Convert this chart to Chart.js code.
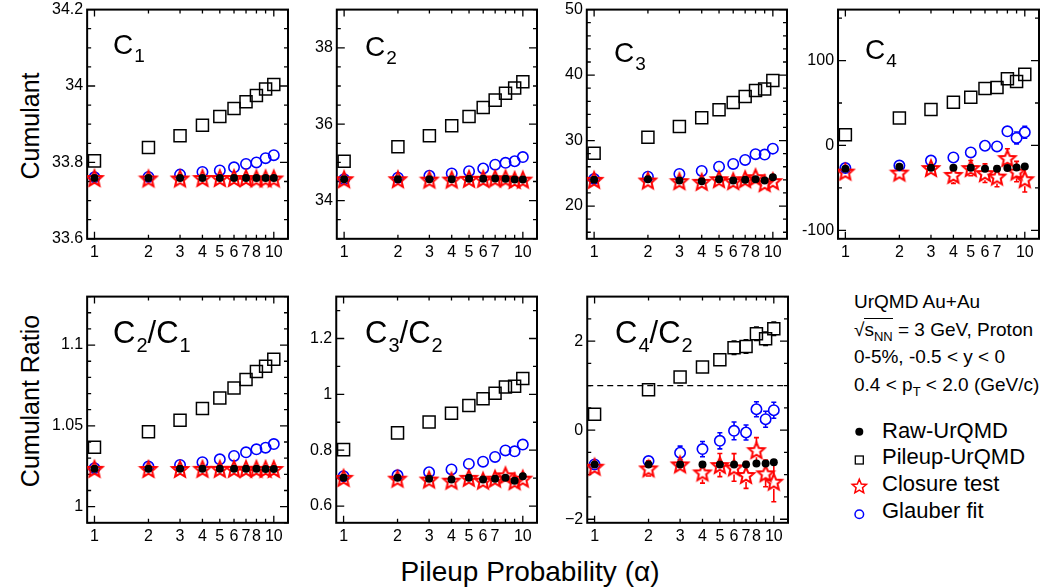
<!DOCTYPE html>
<html>
<head>
<meta charset="utf-8">
<script src="https://cdn.jsdelivr.net/npm/chart.js@4.4.1/dist/chart.umd.min.js"></script>
<style>
  body { margin: 0; width: 1041px; height: 587px; background: #fff; position: relative; overflow: hidden;
         font-family: "Liberation Sans", Arial, sans-serif; color: #000; }
  canvas { position: absolute; }
  .pt { position: absolute; font-size: 28px; line-height: 1; white-space: nowrap; }
  .pt.big { font-size: 31px; }
  .pt .sb { font-size: 19px; position: relative; top: 8px; margin-left: 1px; }
  .pt.big .sb { font-size: 20px; top: 9px; }
  .ytitle { position: absolute; font-size: 25px; line-height: 1; white-space: nowrap;
            transform: translate(-50%, -50%) rotate(-90deg); }
  .xtitle { position: absolute; font-size: 28px; line-height: 1; white-space: nowrap; transform: translate(-50%, -50%); }
  .info { position: absolute; left: 854px; font-size: 19px; line-height: 1; white-space: nowrap; }
  .info sub { font-size: 13px; vertical-align: -5px; }
  .leg { position: absolute; left: 882px; font-size: 22px; line-height: 1; white-space: nowrap; }
  .rad { border-top: 1.3px solid #000; }
</style>
</head>
<body>
<script>
// pileup probability alpha
const alpha = [1, 2, 3, 4, 5, 6, 7, 8, 9, 10];
const xLabelsA = [1, 2, 3, 4, 5, 6, 7, 8, 10];
const xLabelsB = [1, 2, 3, 4, 5, 6, 7, 10];

// C1
const c1Raw     = [33.759, 33.759, 33.759, 33.759, 33.759, 33.759, 33.759, 33.759, 33.759, 33.759];
const c1Pileup  = [33.804, 33.839, 33.870, 33.897, 33.920, 33.941, 33.959, 33.975, 33.992, 34.004];
const c1Closure = [33.759, 33.758, 33.758, 33.759, 33.759, 33.759, 33.759, 33.758, 33.758, 33.758];
const c1Glauber = [33.761, 33.762, 33.768, 33.775, 33.779, 33.787, 33.796, 33.800, 33.811, 33.819];
const c1YTicks = [33.6, 33.8, 34, 34.2];
const c1YLabels = ["33.6", "33.8", "34", "34.2"];

// C2
const c2Raw     = [34.56, 34.56, 34.56, 34.56, 34.57, 34.57, 34.58, 34.57, 34.55, 34.55];
const c2Pileup  = [35.03, 35.41, 35.70, 35.96, 36.20, 36.44, 36.63, 36.81, 36.95, 37.11];
const c2Closure = [34.56, 34.56, 34.55, 34.55, 34.57, 34.57, 34.58, 34.58, 34.54, 34.55];
const c2Glauber = [34.56, 34.60, 34.65, 34.71, 34.77, 34.84, 34.94, 34.99, 35.03, 35.14];
const c2YTicks = [34, 36, 38];
const c2YLabels = ["34", "36", "38"];

// C3
const c3Raw     = [24.0, 24.1, 23.9, 23.8, 24.1, 23.9, 24.0, 24.1, 23.9, 24.4];
const c3Pileup  = [28.07, 30.52, 32.14, 33.48, 34.70, 35.82, 36.74, 37.66, 37.87, 39.19];
const c3Closure = [24.0, 23.9, 23.8, 23.7, 24.1, 23.8, 24.1, 24.4, 23.5, 23.8];
const c3Glauber = [24.13, 24.49, 24.90, 25.36, 26.02, 26.43, 27.04, 27.92, 27.86, 28.77];
const c3YTicks = [20, 30, 40, 50];
const c3YLabels = ["20", "30", "40", "50"];

// C4
const c4Raw        = [-27.6, -25.2, -26.4, -26.4, -26.4, -27.6, -27.6, -26.7, -26.0, -24.9];
const c4Pileup     = [12.7, 32.4, 42.2, 50.9, 56.8, 67.1, 68.3, 78.6, 75.4, 83.7];
const c4Closure    = [-30.8, -32.0, -26.7, -34.7, -26.7, -32.7, -36.7, -14.9, -30.8, -39.8];
const c4ClosureErr = [5, 7, 8, 10, 9, 11, 12, 11, 12, 15];
const c4Glauber    = [-26.7, -23.7, -17.8, -14.2, -8.3, -0.4, -1.2, 16.6, 8.8, 15.4];
const c4GlauberErr = [3, 4, 5, 5, 6, 6, 6, 6, 7, 7];
const c4YTicks = [-100, 0, 100];
const c4YLabels = ["-100", "0", "100"];

// C2/C1
const r21Raw     = [1.0234, 1.0234, 1.0234, 1.0234, 1.0234, 1.0234, 1.0234, 1.0234, 1.0233, 1.0233];
const r21Pileup  = [1.0367, 1.0463, 1.0535, 1.0607, 1.0672, 1.0734, 1.0787, 1.0836, 1.0869, 1.0912];
const r21Closure = [1.0234, 1.0233, 1.0233, 1.0234, 1.0234, 1.0234, 1.0234, 1.0234, 1.0233, 1.0233];
const r21Glauber = [1.0238, 1.0248, 1.0258, 1.0275, 1.0293, 1.0314, 1.0336, 1.0355, 1.0365, 1.0387];
const r21YTicks = [1, 1.05, 1.1];
const r21YLabels = ["1", "1.05", "1.1"];

// C3/C2
const r32Raw     = [0.701, 0.701, 0.698, 0.695, 0.701, 0.695, 0.698, 0.701, 0.691, 0.707];
const r32Pileup  = [0.802, 0.862, 0.901, 0.932, 0.960, 0.984, 1.004, 1.026, 1.029, 1.057];
const r32Closure = [0.701, 0.698, 0.695, 0.691, 0.701, 0.691, 0.698, 0.710, 0.689, 0.698];
const r32Glauber = [0.707, 0.710, 0.721, 0.731, 0.751, 0.759, 0.776, 0.799, 0.796, 0.820];
const r32YTicks = [0.6, 0.8, 1, 1.2];
const r32YLabels = ["0.6", "0.8", "1", "1.2"];

// C4/C2
const r42Raw        = [-0.77, -0.77, -0.77, -0.77, -0.77, -0.77, -0.77, -0.75, -0.75, -0.72];
const r42Pileup     = [0.358, 0.91, 1.194, 1.418, 1.582, 1.851, 1.881, 2.164, 2.052, 2.276];
const r42PileupErr  = [0.05, 0.1, 0.1, 0.12, 0.12, 0.15, 0.15, 0.15, 0.15, 0.15];
const r42Closure    = [-0.82, -0.858, -0.769, -0.948, -0.784, -0.836, -1.007, -0.448, -0.97, -1.157];
const r42ClosureErr = [0.13, 0.17, 0.15, 0.24, 0.26, 0.31, 0.3, 0.28, 0.3, 0.45];
const r42Glauber    = [-0.769, -0.694, -0.507, -0.425, -0.239, -0.015, -0.052, 0.47, 0.246, 0.448];
const r42GlauberErr = [0.07, 0.12, 0.15, 0.17, 0.18, 0.2, 0.17, 0.17, 0.18, 0.18];
const r42RefLine = [1];
const r42YTicks = [-2, 0, 2];
const r42YLabels = ["\u22122", "0", "2"];

const X_MIN = 0.91, X_MAX = 12;

const panels = [
  { x: 86.7,  y: 9.5, w: 200.5, h: 229, yMin: 33.6, yMax: 34.2, minor: 0.05, yTicks: c1YTicks, yLabels: c1YLabels, xLabels: xLabelsA,
    raw: c1Raw, pileup: c1Pileup, closure: c1Closure, glauber: c1Glauber },
  { x: 336.5, y: 9.5, w: 200.5, h: 229, yMin: 33, yMax: 39, minor: 0.5, yTicks: c2YTicks, yLabels: c2YLabels, xLabels: xLabelsB,
    raw: c2Raw, pileup: c2Pileup, closure: c2Closure, glauber: c2Glauber },
  { x: 587,   y: 9.5, w: 200.5, h: 229, yMin: 15, yMax: 50, minor: 2, yTicks: c3YTicks, yLabels: c3YLabels, xLabels: xLabelsA,
    raw: c3Raw, pileup: c3Pileup, closure: c3Closure, glauber: c3Glauber },
  { x: 837.7, y: 9.5, w: 200.5, h: 229, yMin: -110, yMax: 160, minor: 50, yTicks: c4YTicks, yLabels: c4YLabels, xLabels: xLabelsB,
    raw: c4Raw, pileup: c4Pileup, closure: c4Closure, glauber: c4Glauber, closureErr: c4ClosureErr, glauberErr: c4GlauberErr },
  { x: 86.7,  y: 296.5, w: 200.5, h: 226, yMin: 0.99, yMax: 1.13, minor: 0.01, yTicks: r21YTicks, yLabels: r21YLabels, xLabels: xLabelsA,
    raw: r21Raw, pileup: r21Pileup, closure: r21Closure, glauber: r21Glauber },
  { x: 336.5, y: 296.5, w: 200.5, h: 226, yMin: 0.54, yMax: 1.35, minor: 0.1, yTicks: r32YTicks, yLabels: r32YLabels, xLabels: xLabelsB,
    raw: r32Raw, pileup: r32Pileup, closure: r32Closure, glauber: r32Glauber },
  { x: 587,   y: 296.5, w: 200.5, h: 226, yMin: -2.08, yMax: 3.0, minor: 0.5, yTicks: r42YTicks, yLabels: r42YLabels, xLabels: xLabelsA,
    raw: r42Raw, pileup: r42Pileup, closure: r42Closure, glauber: r42Glauber,
    pileupErr: r42PileupErr, closureErr: r42ClosureErr, glauberErr: r42GlauberErr, refLine: r42RefLine }
];

Chart.defaults.font.family = '"Liberation Sans", Arial, sans-serif';
Chart.defaults.font.size = 16;
Chart.defaults.color = '#000';

// open red star like ROOT marker 30
function starPath(R) {
  const pts = [];
  for (let i = 0; i < 10; i++) {
    const r = i % 2 ? R * 0.45 : R;
    const a = -Math.PI / 2 + i * Math.PI / 5;
    pts.push([r * Math.cos(a), r * Math.sin(a)]);
  }
  return pts;
}
function starCanvas(R, color, lw) {
  const c = document.createElement('canvas');
  const s = Math.ceil(2 * R + lw + 3);
  c.width = s; c.height = s;
  const g = c.getContext('2d');
  g.translate(s / 2, s / 2 + 0.8);
  g.beginPath();
  starPath(R).forEach(([px, py], i) => i ? g.lineTo(px, py) : g.moveTo(px, py));
  g.closePath();
  g.strokeStyle = color; g.lineWidth = lw; g.lineJoin = 'miter';
  g.stroke();
  return c;
}
const redStar = starCanvas(8.5, '#ff0000', 2);

const framePlugin = {
  id: 'frame',
  beforeDatasetsDraw(chart) {
    const { ctx, chartArea: a, scales: { x, y } } = chart;
    const p = chart.options.plugins.frame.panel;
    ctx.save();
    ctx.strokeStyle = '#000';
    ctx.lineWidth = 1.3;
    ctx.beginPath();
    alpha.forEach(v => {
      const px = x.getPixelForValue(v);
      const L = (v === 1 || v === 10) ? 7 : 4;
      ctx.moveTo(px, a.bottom); ctx.lineTo(px, a.bottom - L);
      ctx.moveTo(px, a.top); ctx.lineTo(px, a.top + L);
    });
    for (let k = Math.ceil(p.yMin / p.minor - 1e-6); k * p.minor <= p.yMax + 1e-6; k++) {
      const v = k * p.minor;
      const major = p.yTicks.some(t => Math.abs(t - v) < p.minor * 0.01);
      const L = major ? 8 : 4;
      const py = y.getPixelForValue(v);
      ctx.moveTo(a.left, py); ctx.lineTo(a.left + L, py);
      ctx.moveTo(a.right, py); ctx.lineTo(a.right - L, py);
    }
    ctx.stroke();
    ctx.lineWidth = 2;
    ctx.strokeRect(a.left, a.top, a.right - a.left, a.bottom - a.top);

    // error bars
    chart.data.datasets.forEach(ds => {
      if (!ds.errors) return;
      ctx.strokeStyle = ds.errColor;
      ctx.lineWidth = 1.6;
      ctx.beginPath();
      ds.data.forEach((d, i) => {
        const px = x.getPixelForValue(d.x);
        const py = y.getPixelForValue(d.y);
        const e = Math.abs(y.getPixelForValue(d.y + ds.errors[i]) - py);
        if (e <= ds.errGap) return;
        ctx.moveTo(px, py - ds.errGap); ctx.lineTo(px, py - e);
        ctx.moveTo(px, py + ds.errGap); ctx.lineTo(px, py + e);
        ctx.moveTo(px - 2.5, py - e); ctx.lineTo(px + 2.5, py - e);
        ctx.moveTo(px - 2.5, py + e); ctx.lineTo(px + 2.5, py + e);
      });
      ctx.stroke();
    });
    ctx.restore();
  }
};

const toPts = arr => arr.map((v, i) => ({ x: alpha[i], y: v }));

function makePanel(p) {
  const canvas = document.createElement('canvas');
  canvas.width = p.w + 100;
  canvas.height = p.h + 60;
  document.body.appendChild(canvas);

  const datasets = [
    { label: 'Raw-UrQMD', data: toPts(p.raw), pointStyle: 'circle', pointRadius: 4,
      backgroundColor: '#000', borderColor: '#000', borderWidth: 0 },
    { label: 'Closure test', data: toPts(p.closure), pointStyle: redStar, pointRadius: 8,
      backgroundColor: '#f00', borderColor: '#f00', errors: p.closureErr, errColor: '#f00', errGap: 7 },
    { label: 'Glauber fit', data: toPts(p.glauber), pointStyle: 'circle', pointRadius: 5.2,
      backgroundColor: 'rgba(0,0,0,0)', borderColor: '#0000ff', borderWidth: 1.6,
      errors: p.glauberErr, errColor: '#0000ff', errGap: 5.5 },
    { label: 'Pileup-UrQMD', data: toPts(p.pileup), pointStyle: 'rect', pointRadius: 8.5,
      backgroundColor: 'rgba(0,0,0,0)', borderColor: '#000', borderWidth: 1.5,
      errors: p.pileupErr, errColor: '#000', errGap: 6 }
  ];
  if (p.refLine) {
    datasets.push({ type: 'line', label: 'ref', data: [{ x: X_MIN, y: p.refLine[0] }, { x: X_MAX, y: p.refLine[0] }],
      borderColor: '#000', borderWidth: 1.3, borderDash: [6, 4], pointRadius: 0, fill: false });
  }

  const chart = new Chart(canvas, {
    type: 'scatter',
    data: { datasets },
    options: {
      responsive: false,
      maintainAspectRatio: false,
      animation: false,
      events: [],
      layout: { padding: 0 },
      plugins: { legend: { display: false }, tooltip: { enabled: false }, frame: { panel: p } },
      scales: {
        x: {
          type: 'logarithmic', min: X_MIN, max: X_MAX,
          grid: { display: false, drawTicks: false }, border: { display: false },
          afterBuildTicks: s => { s.ticks = alpha.map(v => ({ value: v })); },
          ticks: { autoSkip: false, maxRotation: 0, minRotation: 0, padding: 4,
                   callback: v => p.xLabels.includes(v) ? String(v) : '' }
        },
        y: {
          type: 'linear', min: p.yMin, max: p.yMax,
          grid: { display: false, drawTicks: false }, border: { display: false },
          afterBuildTicks: s => { s.ticks = p.yTicks.map(v => ({ value: v })); },
          ticks: { padding: 4, callback: (v, i) => p.yLabels[i] }
        }
      }
    },
    plugins: [framePlugin]
  });

  let a = chart.chartArea;
  const lm = a.left, tm = a.top, rm = canvas.width - a.right, bm = canvas.height - a.bottom;
  chart.resize(Math.round(p.w + lm + rm), Math.round(p.h + tm + bm));
  chart.update('none');
  a = chart.chartArea;
  canvas.style.left = (p.x - a.left) + 'px';
  canvas.style.top = (p.y - a.top) + 'px';
}

panels.forEach(makePanel);
</script>

<div class="pt" style="left:113px;top:31px">C<span class="sb">1</span></div>
<div class="pt" style="left:365px;top:33px">C<span class="sb">2</span></div>
<div class="pt" style="left:614px;top:39px">C<span class="sb">3</span></div>
<div class="pt" style="left:865px;top:36px">C<span class="sb">4</span></div>
<div class="pt big" style="left:113px;top:317px">C<span class="sb">2</span>/C<span class="sb">1</span></div>
<div class="pt big" style="left:365px;top:317px">C<span class="sb">3</span>/C<span class="sb">2</span></div>
<div class="pt big" style="left:615px;top:317px">C<span class="sb">4</span>/C<span class="sb">2</span></div>

<div class="ytitle" style="left:30px;top:126px">Cumulant</div>
<div class="ytitle" style="left:30px;top:401px">Cumulant Ratio</div>
<div class="xtitle" style="left:530px;top:572px">Pileup Probability (α)</div>

<div class="info" style="top:292px">UrQMD Au+Au</div>
<div class="info" style="top:320px">√<span class="rad">s<sub>NN</sub></span> = 3 GeV, Proton</div>
<div class="info" style="top:347px">0-5%, -0.5 &lt; y &lt; 0</div>
<div class="info" style="top:375px">0.4 &lt; p<sub>T</sub> &lt; 2.0 (GeV/c)</div>

<svg id="legsvg" style="position:absolute;left:845px;top:420px" width="30" height="110"></svg>
<div class="leg" style="top:420px">Raw-UrQMD</div>
<div class="leg" style="top:446px">Pileup-UrQMD</div>
<div class="leg" style="top:473px">Closure test</div>
<div class="leg" style="top:500px">Glauber fit</div>

<script>
  const svg = document.getElementById('legsvg');
  const starPts = starPath(7.5).map(([px, py]) => (14.3 + px).toFixed(2) + ',' + (66.7 + py).toFixed(2)).join(' ');
  svg.innerHTML =
    '<circle cx="14.3" cy="11.7" r="4" fill="#000"/>' +
    '<rect x="10.3" y="36" width="8" height="8" fill="none" stroke="#000" stroke-width="1.3"/>' +
    '<polygon points="' + starPts + '" fill="none" stroke="#f00" stroke-width="1.5"/>' +
    '<circle cx="14.3" cy="94.3" r="4.3" fill="none" stroke="#00f" stroke-width="1.5"/>';
</script>
</body>
</html>
